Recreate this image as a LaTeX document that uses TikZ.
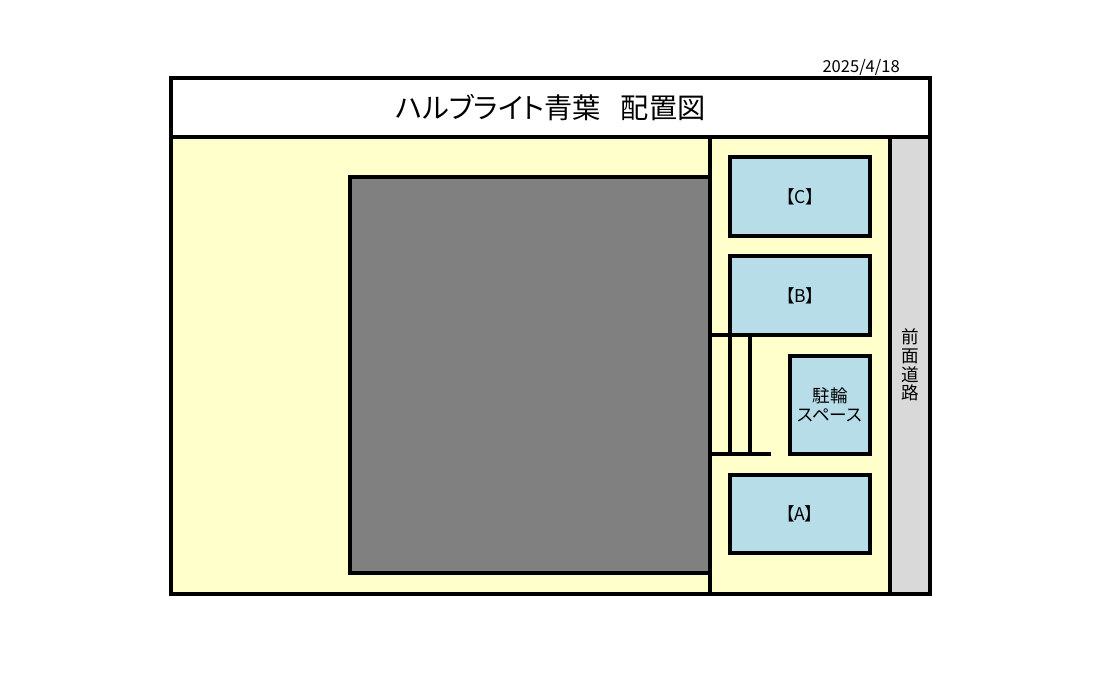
\documentclass[tikz,border=0pt]{standalone}
\usepackage{fontspec}
\setmainfont{Noto Sans CJK JP}[RawFeature=+palt]
\newcommand{\lift}[1]{\raisebox{1.2pt}{#1}}
\tikzset{
  ln/.style={draw=black,line width=3pt,miter limit=10},
  region/.style={ln,rectangle,inner sep=0pt,outer sep=0pt,anchor=north west},
  car/.style={region,fill=carblue,text=black,font=\fontsize{13.2pt}{14.25pt}\selectfont,align=center},
  bar/.style={draw=black,line width=3pt,line cap=butt},
}
\definecolor{carblue}{HTML}{B7DDE8}
\definecolor{siteyellow}{HTML}{FFFFCC}
\definecolor{buildgray}{HTML}{808080}
\definecolor{roadgray}{HTML}{D9D9D9}
\begin{document}
\begin{tikzpicture}[x=0.75pt,y=-0.75pt]
\useasboundingbox (0,0) rectangle (1093,672);
% site
\node[region,fill=siteyellow,minimum width=539.25pt,minimum height=342.75pt] (site) at (171,137) {};
\node[region,fill=siteyellow,minimum width=135pt,minimum height=342.75pt] (strip) at (710,137) {};
\node[region,fill=roadgray,minimum width=30pt,minimum height=342.75pt] (road) at (890,137) {};
\node[font=\fontsize{13.2pt}{14pt}\selectfont,align=center] (roadlabel) at (910,365) {前\\面\\道\\路};
\node[region,fill=white,minimum width=569.25pt,minimum height=44.25pt,font=\fontsize{21.15pt}{25pt}\selectfont] (title) at (171,78) {ハルブライト青葉\hspace{0.7em}配置図};
% building
\node[region,fill=buildgray,minimum width=270pt,minimum height=297pt] (building) at (350,177) {};
% boxes
\node[car,minimum width=105pt,minimum height=59.25pt] (c) at (730,157) {\lift{【C】}};
\node[car,minimum width=105pt,minimum height=59.25pt] (b) at (730,256) {\lift{【B】}};
\node[car,minimum width=60pt,minimum height=73.5pt] (bike) at (790,356) {\lift{駐輪}\\\lift{スペース}};
\node[car,minimum width=105pt,minimum height=58.5pt] (a) at (730,475) {\lift{【A】}};
% stairs
\coordinate (t0) at (710,335);
\coordinate (t1) at (730,335);
\coordinate (t2) at (750,333);
\coordinate (u0) at (710,454);
\coordinate (u1) at (730,454);
\coordinate (u2) at (750,454);
\coordinate (u3) at (771,454);
\draw[bar] (t0) -- (t1);
\draw[bar] (t1) -- (u1);
\draw[bar] (t2) -- (u2);
\draw[bar] (u0) -- (u3);
% date
\node[font=\fontsize{12.4pt}{14pt}\selectfont,anchor=east,inner xsep=0pt] (date) at (900,67) {2025/4/18};
\end{tikzpicture}
\end{document}
